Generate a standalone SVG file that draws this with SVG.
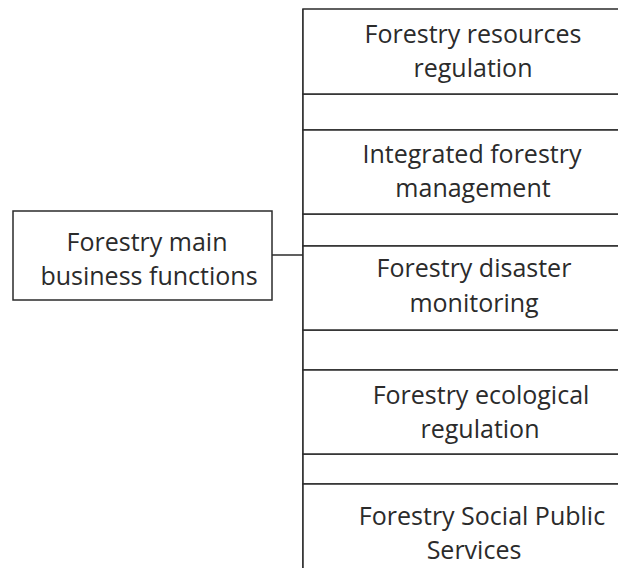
<svg xmlns="http://www.w3.org/2000/svg" width="618" height="568" viewBox="0 0 618 568">
<style>
.box{fill:#fff;stroke:#2b2b2b;stroke-width:1.5}
.lbl{font-family:"Open Sans","Noto Sans",sans-serif;font-size:25px;fill:#2b2b2b;text-anchor:middle}
.conn{stroke:#2b2b2b;stroke-width:1.5;fill:none}
</style>
<rect width="618" height="568" fill="#fff"/>
<g id="connectors">
<line class="conn" x1="272" y1="255" x2="303" y2="255"/>
<line class="conn" x1="303" y1="9" x2="303" y2="568"/>
</g>
<g id="main">
<rect class="box" x="13" y="211" width="259" height="89"/>
<text class="lbl" x="147" y="251">Forestry main</text>
<text class="lbl" x="149" y="285">business functions</text>
</g>
<g id="gap1"><rect class="box" x="303" y="94" width="330" height="36"/></g>
<g id="gap2"><rect class="box" x="303" y="214" width="330" height="32"/></g>
<g id="gap3"><rect class="box" x="303" y="330" width="330" height="40"/></g>
<g id="gap4"><rect class="box" x="303" y="454" width="330" height="30"/></g>
<g id="n1">
<rect class="box" x="303" y="9" width="330" height="85"/>
<text class="lbl" x="473" y="43">Forestry resources</text>
<text class="lbl" x="473" y="77">regulation</text>
</g>
<g id="n2">
<rect class="box" x="303" y="130" width="330" height="84"/>
<text class="lbl" x="472" y="163">Integrated forestry</text>
<text class="lbl" x="473" y="197">management</text>
</g>
<g id="n3">
<rect class="box" x="303" y="246" width="330" height="84"/>
<text class="lbl" x="474" y="277">Forestry disaster</text>
<text class="lbl" x="474" y="312">monitoring</text>
</g>
<g id="n4">
<rect class="box" x="303" y="370" width="330" height="84"/>
<text class="lbl" x="481" y="404">Forestry ecological</text>
<text class="lbl" x="480" y="438">regulation</text>
</g>
<g id="n5">
<rect class="box" x="303" y="484" width="330" height="100"/>
<text class="lbl" x="482" y="525">Forestry Social Public</text>
<text class="lbl" x="474" y="559">Services</text>
</g>
</svg>
